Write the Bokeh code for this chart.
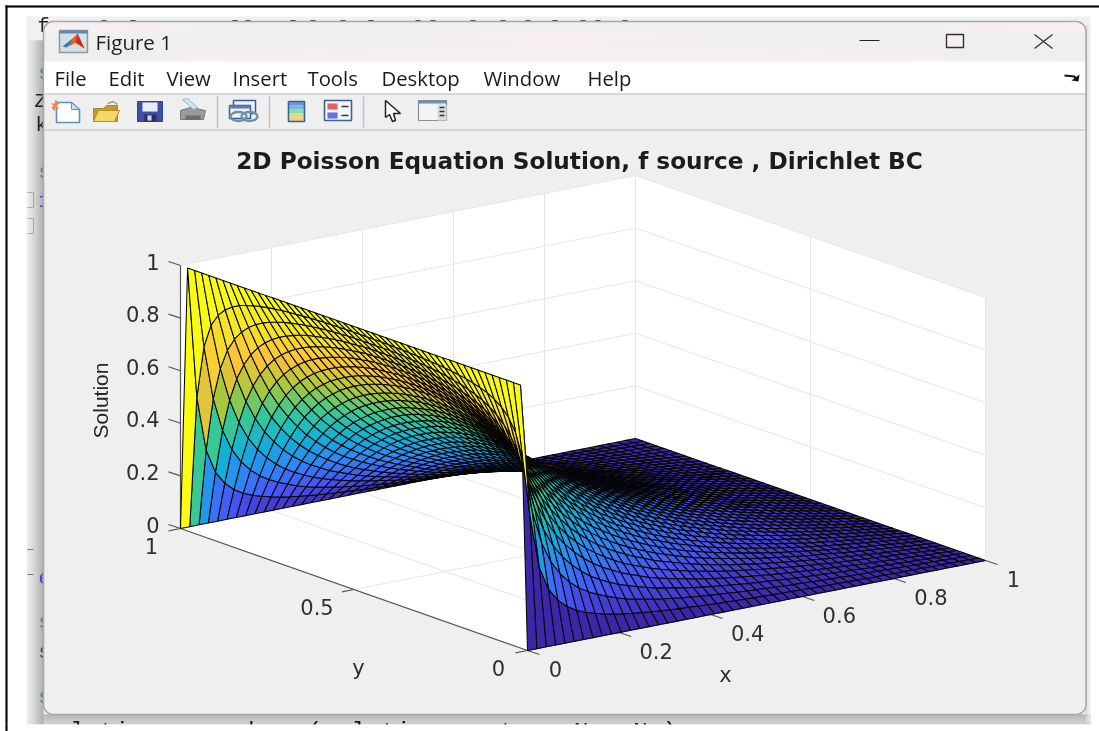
from bokeh.plotting import figure
from bokeh.models import Range1d, ColumnDataSource
from bokeh.core.properties import value
from bokeh.embed import file_html
from bokeh.resources import INLINE
import numpy as np

# ---------------- chart values ----------------
TITLE = "2D Poisson Equation Solution, f source , Dirichlet BC"
X_TICKS = [0, 0.2, 0.4, 0.6, 0.8, 1]
Y_TICKS = [0, 0.5, 1]
Z_TICKS = [0, 0.2, 0.4, 0.6, 0.8, 1]
X_TICK_LABELS = ["0", "0.2", "0.4", "0.6", "0.8", "1"]
Y_TICK_LABELS = ["0", "0.5", "1"]
Z_TICK_LABELS = ["0", "0.2", "0.4", "0.6", "0.8", "1"]
MENU_LABELS = ["File", "Edit", "View", "Insert", "Tools", "Desktop", "Window", "Help"]
N_CELLS = 49
# Estimated surface heights x1000. One row per mesh line in x (0 ... 1), one entry
# per mesh line in y from the edge inward; the surface is mirrored about y = 0.5
# and is 0 on the edge y = 0. The values are hand estimates, not read cell by cell.
Z_ROWS = [
 [1000]*24,
 [501,704,794,842,872,892,907,917,925,932,937,941,945,948,950,952,954,955,957,957,958,959,959,959],
 [294,499,623,702,753,790,817,837,853,865,875,884,890,896,901,905,908,911,913,915,917,918,918,918],
 [203,372,496,586,649,697,733,761,783,801,815,827,837,846,852,858,863,867,871,873,875,877,878,878],
 [154,292,404,494,562,615,657,691,718,740,758,773,786,796,805,813,819,824,828,832,835,836,838,838],
 [123,238,337,421,489,544,590,627,657,682,703,721,736,748,759,768,776,782,787,791,795,797,799,799],
 [102,200,287,364,429,484,531,569,602,629,652,672,688,703,715,725,734,741,747,752,755,758,760,761],
 [87,171,249,319,380,433,479,518,552,580,604,626,643,659,672,684,693,701,708,713,717,720,722,723],
 [76,149,218,282,338,389,434,472,506,535,560,583,601,618,632,644,654,663,670,676,680,684,686,687],
 [67,132,192,251,303,350,393,431,463,492,517,540,559,576,591,603,614,623,630,637,641,645,647,648],
 [59,118,172,225,273,318,358,394,426,454,480,503,522,539,554,567,578,587,595,602,607,610,613,614],
 [53,105,155,203,248,289,326,361,393,421,445,467,487,504,519,533,544,553,560,567,573,576,579,580],
 [48,94,140,185,226,263,299,332,363,389,413,435,454,472,487,500,511,520,528,535,540,544,547,548],
 [44,86,128,168,206,241,275,306,335,360,383,405,424,441,455,468,480,490,498,505,510,514,517,518],
 [40,79,117,154,188,222,254,283,309,334,357,378,395,412,426,439,451,461,468,475,480,484,486,488],
 [37,72,107,142,173,205,234,261,287,310,332,351,369,385,399,412,423,432,440,447,452,456,458,460],
 [34,66,98,129,160,189,216,242,266,287,308,327,345,359,373,386,397,406,413,420,425,429,431,433],
 [31,61,91,119,147,175,200,224,247,267,287,306,321,336,350,362,372,380,388,395,400,403,406,407],
 [29,56,84,110,136,161,185,208,229,249,268,284,300,314,326,338,348,357,364,370,375,378,381,382],
 [26,52,78,102,126,149,172,193,213,232,249,266,280,293,306,317,327,334,341,348,352,356,358,359],
 [25,48,71,95,117,139,160,179,198,215,232,247,261,274,286,296,305,314,321,326,330,334,336,337],
 [22,44,66,87,108,128,147,166,184,200,215,230,243,256,267,276,285,293,299,305,309,312,314,315],
 [21,41,61,81,100,119,137,154,171,186,201,214,227,239,249,258,267,274,280,285,289,292,294,295],
 [19,38,57,75,93,110,127,143,159,173,187,200,211,222,232,241,249,256,262,267,270,273,275,276],
 [18,35,53,70,86,102,118,133,148,161,174,186,197,207,217,225,232,239,244,249,253,256,257,258],
 [16,33,49,65,80,95,110,124,137,150,162,173,183,193,202,210,217,223,228,233,236,239,240,241],
 [15,30,45,60,74,88,102,115,127,139,150,161,171,180,188,195,202,208,213,217,220,223,224,225],
 [14,28,42,56,69,82,95,107,118,129,140,150,159,167,175,182,188,193,198,202,205,208,209,210],
 [13,26,39,52,64,76,88,99,110,120,130,139,147,155,162,169,175,180,184,188,191,193,195,195],
 [12,24,36,48,59,70,81,92,102,111,120,129,137,144,151,157,162,167,171,175,178,180,181,182],
 [11,22,33,44,55,65,75,85,94,103,111,119,127,134,140,146,151,155,159,162,165,167,168,169],
 [10,21,31,41,51,60,69,78,87,95,103,110,117,124,129,135,139,144,147,150,153,154,156,156],
 [9,19,28,38,47,55,64,72,80,88,95,102,108,114,119,124,129,133,136,139,141,143,144,144],
 [9,17,26,35,43,51,59,66,74,81,87,94,100,105,110,114,119,122,125,128,130,132,133,133],
 [8,16,24,32,39,47,54,61,68,74,80,86,92,96,101,105,109,112,115,118,120,121,122,122],
 [7,15,22,29,36,43,49,56,62,68,73,79,84,88,92,96,100,103,106,108,110,111,112,112],
 [7,13,20,26,32,39,45,51,56,62,67,72,76,80,84,88,91,94,97,99,100,102,102,103],
 [6,12,18,24,29,35,41,46,51,56,61,65,69,73,77,80,83,85,88,90,91,92,93,93],
 [5,11,16,21,27,32,37,41,46,50,55,59,62,66,69,72,75,77,79,81,82,83,84,84],
 [5,10,14,19,24,28,33,37,41,45,49,53,56,59,62,65,67,69,71,72,74,75,75,76],
 [4,9,13,17,21,25,29,33,37,40,44,47,50,53,55,57,60,61,63,64,66,66,67,67],
 [4,8,11,15,19,22,26,29,32,35,38,41,44,46,48,50,52,54,55,57,58,58,59,59],
 [3,7,10,13,16,19,22,25,28,31,33,36,38,40,42,44,45,47,48,49,50,51,51,51],
 [3,6,8,11,14,16,19,21,24,26,28,30,32,34,36,37,39,40,41,42,42,43,43,43],
 [2,5,7,9,11,13,16,18,20,21,23,25,27,28,29,31,32,33,34,34,35,35,36,36],
 [2,4,5,7,9,11,12,14,16,17,19,20,21,22,23,24,25,26,27,27,28,28,28,29],
 [1,3,4,5,7,8,9,10,12,13,14,15,16,17,17,18,19,19,20,20,21,21,21,21],
 [1,2,3,4,4,5,6,7,8,8,9,10,11,11,12,12,13,13,13,14,14,14,14,14],
 [0,1,1,2,2,3,3,4,4,4,5,5,5,6,6,6,6,6,7,7,7,7,7,7],
 [0]*24,
]

# ---------------- view and colour map ----------------
def PX(x, y):
    x, y = np.asarray(x, float), np.asarray(y, float)
    return 527 + 458*x - 347*y - 3*x*y
def PY(x, y, z): return 650 - 90*np.asarray(x, float) - 122*np.asarray(y, float) - 263*np.asarray(z, float)
def depth(x, y, z): return 347*x + 458*y - 329*z

PAR_T = [0, .125, .25, .375, .5, .625, .75, .875, 1]
PAR_R = [.2422, .2810, .1786, .0689, .2161, .6720, .9970, .9606, .9769]
PAR_G = [.1504, .3228, .5289, .6948, .7843, .7793, .7659, .8929, .9839]
PAR_B = [.6603, .9579, .9682, .8394, .5923, .2227, .2199, .1500, .0805]
def parula(c):
    return "#%02x%02x%02x" % tuple(int(round(255*np.interp(c, PAR_T, ch))) for ch in (PAR_R, PAR_G, PAR_B))

p = figure(width=1099, height=731, output_backend="svg", toolbar_location=None,
           x_range=Range1d(0, 1099), y_range=Range1d(731, 0), min_border=0,
           background_fill_color="white", outline_line_color=None,
           styles={"position": "fixed", "left": "0px", "top": "0px"})
p.axis.visible = False
p.grid.visible = False

def rect(x0, y0, x1, y1, fill, line=None, lw=1):
    p.patch([x0, x1, x1, x0], [y0, y0, y1, y1], fill_color=fill, line_color=line or fill, line_width=lw if line else 0.1)
def poly(xs, ys, fill, line=None, lw=1):
    p.patch(xs, ys, fill_color=fill, line_color=line, line_width=lw)
def seg(xs, ys, color, lw=1, dash="solid"):
    p.line(xs, ys, line_color=color, line_width=lw, line_dash=dash)
def txt(x, y, s, size, color="#222222", font="Liberation Sans", align="center", style="normal", angle=0, base="middle"):
    p.text([x], [y], text=[s], text_font=value(font), text_font_size=f"{size}px", text_color=color,
           text_align=align, text_baseline=base, text_font_style=style, angle=angle)

# ---------------- page behind the window ----------------
rect(5, 5, 1099, 7, "#000000")
rect(5, 5, 7, 731, "#000000")
rect(26, 16, 1090, 724, "#f1f1f1")
for k, col in enumerate(["#ececec", "#e8e8e8", "#e4e4e4", "#e0e0e0", "#dcdcdc", "#d8d8d8", "#d3d3d3", "#cecece",
                         "#c9c9c9", "#c4c4c4", "#bebebe", "#b8b8b8", "#b2b2b2", "#acacac", "#a8a8a8", "#a4a4a4"]):
    rect(27 + k, 40, 28 + k, 724, col)
for k, col in enumerate(["#a8a8a8", "#aeaeae", "#b2b2b2", "#b6b6b6", "#bababa", "#bdbdbd", "#c0c0c0", "#c3c3c3", "#c6c6c6", "#c8c8c8"]):
    rect(43, 714 + k, 1090, 715 + k, col)
for k, col in enumerate(["#cfcfcf", "#dadada", "#e4e4e4", "#ececec", "#f1f1f1"]):
    rect(1085 + k, 25, 1086 + k, 722, col)

CODE_FONT = "Liberation Mono"
txt(40, 717, "solution = reshape(solution_vector, Nx, Ny);", 24.7, "#1a1a1a", CODE_FONT, "left", base="top")
rect(0, 724, 1099, 731, "#ffffff")
rect(5, 724, 7, 731, "#000000")
for x, y, s, c in [(37, 26, "f", "#222222"), (38, 73, "s", "#3f8f3f"), (34, 101, "Z", "#222222"), (35, 125, "k", "#222222"),
                   (38, 172, "s", "#3f8f3f"), (38, 200, "1", "#4a3fd0"), (38, 577, "e", "#3a3fe0"), (38, 622, "s", "#3f8f3f"),
                   (38, 652, "s", "#444444"), (38, 697, "s", "#3f8f3f")]:
    txt(x, y, s, 20, c, CODE_FONT, "left")
for y0 in (192, 218):
    p.line([27, 33, 33, 27], [y0, y0, y0 + 15, y0 + 15], line_color="#aaaaaa", line_width=1)
for y0 in (549, 574):
    seg([27, 33], [y0, y0], "#777777")
for x0 in (101, 130, 232, 245, 290, 310, 340, 368, 415, 430, 470, 500, 525, 552, 580, 595, 622):
    seg([x0, x0 + 5], [20, 20], "#333333", 1.2)

# ---------------- window ----------------
def rounded(x0, y0, x1, y1, r=10):
    ang = np.linspace(0, np.pi/2, 8)
    xs = list(x1 - r + r*np.sin(ang)) + list(x1 - r + r*np.cos(ang)) + list(x0 + r - r*np.sin(ang)) + list(x0 + r - r*np.cos(ang))
    ys = list(y0 + r - r*np.cos(ang)) + list(y1 - r + r*np.sin(ang)) + list(y1 - r + r*np.cos(ang)) + list(y0 + r - r*np.sin(ang))
    return xs, ys
wx, wy = rounded(43, 21, 1085.5, 714)
poly(wx, wy, "#efefef", "#a9a9a9", 1.6)
tx, ty = rounded(44, 22, 1084.5, 200)
mask = [k for k in range(len(ty))]
poly([tx[k] for k in mask if ty[k] < 60] + [1084.5, 44], [ty[k] for k in mask if ty[k] < 60] + [61, 61], "#f7eef1")
rect(44, 61, 1084.5, 93, "#ffffff")
seg([44, 1085], [93.5, 93.5], "#bdbdbd", 1.2)
seg([44, 1085], [129.5, 129.5], "#bdbdbd", 1.2)

rect(59, 30, 87, 52, "#d8dee6", "#8d98a3", 1.5)
rect(59, 30, 87, 33, "#5f89b5")
poly([62, 72, 75, 66], [46, 38, 40, 47], "#2f78c4")
poly([72, 77, 84, 75, 69], [38, 33, 48, 42, 46], "#e2661e")
poly([75, 77, 84], [42, 33, 48], "#c9301c")

txt(95, 41, "Figure 1", 20.5, "#1f1f1f", "Open Sans", "left")
MENU_X = [54, 108, 166, 232, 307, 381, 483, 587]
for mx, lab in zip(MENU_X, MENU_LABELS):
    txt(mx, 77.5, lab, 20.3, "#1a1a1a", "Open Sans", "left")
seg([859, 879], [40, 40], "#222222", 1.2)
rect(946, 34, 963, 47, "#f7eef1", "#333333", 1.4)
seg([1034, 1052], [34, 48], "#333333", 1.3)
seg([1034, 1052], [48, 34], "#333333", 1.3)
seg([1064, 1074, 1076], [75, 76, 80], "#111111", 2)
poly([1071, 1079, 1078], [80, 74, 81], "#111111")

# toolbar icons
poly([56, 71, 79, 79, 56], [102, 102, 109, 122, 122], "#ffffff", "#5d8fbf", 1.6)
poly([71, 71, 79], [102, 109, 109], "#cfe0f0", "#5d8fbf", 1)
poly([50, 54, 55, 59, 56, 59, 55, 54, 51, 53], [103, 103, 99, 103, 105, 109, 107, 111, 107, 105], "#ef8a4a")
poly([93, 103, 106, 117, 117, 93], [108, 108, 105, 105, 121, 121], "#c99a28", "#a8842c", 1)
poly([93, 98, 119, 114, 93], [121, 110, 110, 121, 121], "#f5d76a", "#b08f35", 1)
seg([107, 113, 117], [103, 101, 104], "#8aa0b5", 1.4)
rect(137, 101, 162, 121, "#3f4fa8", "#33418f", 1)
rect(142, 102, 157, 111, "#e7ecf7")
rect(144, 114, 156, 121, "#2b2f5f")
rect(147, 115, 151, 120, "#d8d8d8")
poly([180, 190, 205, 203, 180], [110, 107, 110, 119, 119], "#9a9a9a", "#777777", 1)
poly([182, 187, 197, 193], [99, 98, 107, 109], "#cfe6f7", "#9ab4c8", 1)
rect(185, 115, 200, 119, "#6d6d6d")
rect(233, 100, 255, 113, "#eef2f7", "#355f92", 1.5)
rect(229, 105, 250, 118, "#eef2f7", "#355f92", 1.5)
rect(229, 105, 250, 108, "#5a82b0")
p.ellipse([238, 249], [116, 116], width=16, height=9, fill_color=None, line_color="#6f8faa", line_width=2.4)
for sx_ in (217, 269, 363):
    seg([sx_, sx_], [96, 127], "#c2c2c2", 1.6)
for k, col in enumerate(["#7d8fd8", "#66bfe0", "#8fd9b0", "#d9dc8f", "#f2cf86"]):
    rect(288, 101 + 4*k, 304, 105 + 4*k, col)
p.line([288, 304, 304, 288, 288], [101, 101, 121, 121, 101], line_color="#3d6290", line_width=1.6)
rect(324, 100, 351, 120, "#f4f6fa", "#3d6290", 1.6)
rect(327, 103, 337, 109, "#e8606a")
rect(327, 112, 337, 118, "#6a6ee0")
seg([341, 348], [106, 106], "#333333", 1.6)
seg([341, 348], [115, 115], "#333333", 1.6)
poly([385, 385, 389, 392, 395, 393, 400], [100, 117, 114, 121, 120, 113, 113], "#ffffff", "#222222", 1.5)
rect(418, 100, 446, 120, "#f4f4f4", "#8d8d8d", 1.2)
rect(418, 100, 446, 103, "#6c93b5")
rect(437, 104, 446, 120, "#dcdcdc")
for yy in (107, 111, 115):
    seg([439, 444], [yy, yy], "#333333", 1.4)

# ---------------- axes box ----------------
poly(PX([0, 1, 1, 0], [0, 0, 1, 1]), PY([0, 1, 1, 0], [0, 0, 1, 1], [0, 0, 0, 0]), "#ffffff")
poly(PX([0, 1, 1, 0], [1, 1, 1, 1]), PY([0, 1, 1, 0], [1, 1, 1, 1], [0, 0, 1, 1]), "#ffffff")
poly(PX([1, 1, 1, 1], [0, 1, 1, 0]), PY([1, 1, 1, 1], [0, 1, 1, 0], [0, 0, 1, 1]), "#ffffff")
GRID = "#e6e6e6"
for t in X_TICKS:
    seg(PX([t, t, t], [0, 1, 1]), PY([t, t, t], [0, 1, 1], [0, 0, 1]), GRID)
for t in Y_TICKS:
    seg(PX([0, 1, 1], [t, t, t]), PY([0, 1, 1], [t, t, t], [0, 0, 1]), GRID)
for t in Z_TICKS:
    seg(PX([0, 1, 1], [1, 1, 0]), PY([0, 1, 1], [1, 1, 0], [t, t, t]), GRID)

AX = "#555555"
seg(PX([0, 1], [0, 0]), PY([0, 1], [0, 0], [0, 0]), AX, 1.2)
seg(PX([0, 0], [0, 1]), PY([0, 0], [0, 1], [0, 0]), AX, 1.2)
seg(PX([0, 0], [1, 1]), PY([0, 0], [1, 1], [0, 1]), AX, 1.2)
for t in X_TICKS:
    seg([PX(t, 0), PX(t, 0) + 12], [PY(t, 0, 0), PY(t, 0, 0) + 4], AX, 1.2)
for t in Y_TICKS:
    seg([PX(0, t), PX(0, t) - 12], [PY(0, t, 0), PY(0, t, 0) + 2.4], AX, 1.2)
for t in Z_TICKS:
    seg([PX(0, 1), PX(0, 1) - 12], [PY(0, 1, t), PY(0, 1, t) - 4], AX, 1.2)

# ---------------- surface ----------------
Z = np.array([[0] + r + r[::-1] + [0] for r in Z_ROWS], float) / 1000
grid = np.arange(N_CELLS + 1) / N_CELLS
cells = []
for i in range(N_CELLS):
    for j in range(N_CELLS):
        xc = [grid[i], grid[i+1], grid[i+1], grid[i]]
        yc = [grid[j], grid[j], grid[j+1], grid[j+1]]
        zc = [Z[i, j], Z[i+1, j], Z[i+1, j+1], Z[i, j+1]]
        cells.append((depth(np.mean(xc), np.mean(yc), np.mean(zc)), PX(xc, yc).tolist(), PY(xc, yc, zc).tolist(), parula(Z[i, j])))
cells.sort(key=lambda c: -c[0])
surf = ColumnDataSource(dict(xs=[c[1] for c in cells], ys=[c[2] for c in cells], color=[c[3] for c in cells]))
p.patches("xs", "ys", source=surf, fill_color="color", line_color="#050505", line_width=1.05)

# ---------------- labels ----------------
LAB = "#303030"
TICK_FONT = "DejaVu Sans"
for t, s in zip(X_TICKS, X_TICK_LABELS):
    txt(PX(t, 0) + (28 if len(s) == 1 else 37), PY(t, 0, 0) + 18, s, 21, LAB, TICK_FONT)
for t, s in zip(Y_TICKS, Y_TICK_LABELS):
    txt(PX(0, t) - (29 if len(s) == 1 else 37), PY(0, t, 0) + 17.5, s, 21, LAB, TICK_FONT)
for t, s in zip(Z_TICKS, Z_TICK_LABELS):
    txt(PX(0, 1) - 21, PY(0, 1, t) - 4, s, 21, LAB, TICK_FONT, align="right")
txt(725, 674, "x", 21, LAB, TICK_FONT)
txt(358, 667, "y", 21, LAB, TICK_FONT)
txt(100, 400, "Solution", 21, "#262626", "Liberation Sans", angle=np.pi/2)
txt(579, 160, TITLE, 23.2, "#1c1c1c", "DejaVu Sans", style="bold")

open("out.html", "w").write(file_html(p, INLINE))
